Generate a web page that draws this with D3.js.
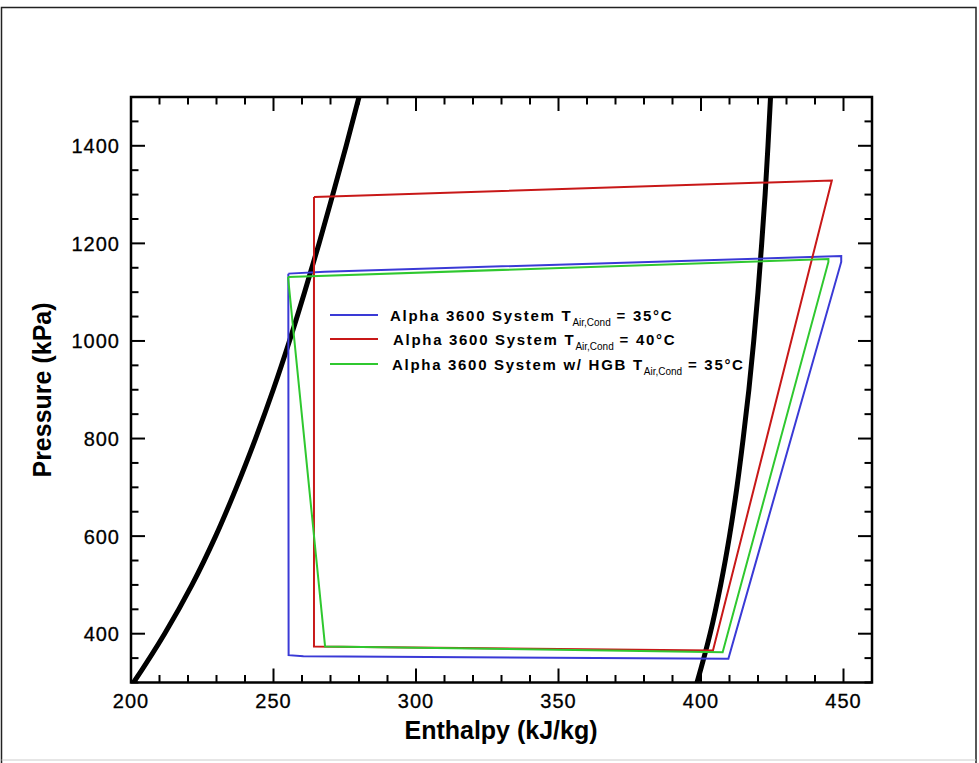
<!DOCTYPE html>
<html><head><meta charset="utf-8">
<script src="https://cdn.jsdelivr.net/npm/d3@7"></script>
<style>body{margin:0;background:#fff}svg{display:block}</style>
</head><body><svg id="c" width="979" height="763"></svg>
<script>
// Saturation dome (R-134a), pressure kPa / enthalpy kJ/kg
const satPressure = [280, 300, 400, 500, 600, 700, 800, 900, 1000, 1100, 1200, 1300, 1400, 1500, 1550];
const satLiquidH  = [198.6, 200.9, 211.8, 221.4, 229.7, 237.0, 243.7, 249.9, 255.6, 260.9, 266.0, 270.8, 275.5, 280.0, 282.2];
const satVaporH   = [397.6, 398.6, 403.2, 406.9, 410.0, 412.6, 414.8, 416.8, 418.5, 420.0, 421.3, 422.5, 423.5, 424.4, 424.8];

// Cycles
const seriesNames = [
  {main: "Alpha 3600 System T", sub: "Air,Cond", tail: " = 35\u00B0C"},
  {main: "Alpha 3600 System T", sub: "Air,Cond", tail: " = 40\u00B0C"},
  {main: "Alpha 3600 System w/ HGB T", sub: "Air,Cond", tail: " = 35\u00B0C"}
];
const blueH  = [255.2, 268.0, 449.2, 449.2, 409.6, 260.5, 255.3, 255.2];
const blueP  = [1138, 1142, 1174, 1162, 348.5, 354, 356, 1138];
const redH   = [264.2, 275.5, 445.9, 404.2, 264.2, 264.2];
const redP   = [1295, 1297, 1329, 365.5, 374, 1295];
const greenH = [255.1, 444.7, 444.7, 407.6, 268.1, 255.1];
const greenP = [1131, 1168, 1162, 362, 374, 1131];

const xMajor = [200, 250, 300, 350, 400, 450];
const yMajor = [400, 600, 800, 1000, 1200, 1400];

const svg = d3.select("#c");
const L = 131, R = 872, T = 97, B = 682.5;
const x = d3.scaleLinear().domain([200, 460]).range([L, R]);
const y = d3.scaleLinear().domain([300, 1500]).range([B, T]);

// outer frame
svg.append("path").attr("d", "M1.5,763 L1.5,7.5 L976,7.5 L976,763")
  .attr("fill", "none").attr("stroke", "#222").attr("stroke-width", 1.5);
svg.append("line").attr("x1", 1.5).attr("x2", 976).attr("y1", 760).attr("y2", 760)
  .attr("stroke", "#ccc").attr("stroke-width", 1);

svg.append("clipPath").attr("id", "clip").append("rect")
  .attr("x", L).attr("y", T).attr("width", R - L).attr("height", B - T);

const g = svg.append("g").attr("clip-path", "url(#clip)");
const line = d3.line().x(d => x(d[0])).y(d => y(d[1]));

g.append("path").datum(satPressure.map((p, i) => [satLiquidH[i], p]))
  .attr("d", line.curve(d3.curveMonotoneY)).attr("fill", "none").attr("stroke", "#000").attr("stroke-width", 5);
g.append("path").datum(satPressure.map((p, i) => [satVaporH[i], p]))
  .attr("d", line.curve(d3.curveMonotoneY)).attr("fill", "none").attr("stroke", "#000").attr("stroke-width", 5);

const lin = d3.line().x(d => x(d[0])).y(d => y(d[1]));
const cycles = [
  {h: blueH, p: blueP, c: "#3a3ad6"},
  {h: redH, p: redP, c: "#c81818"},
  {h: greenH, p: greenP, c: "#2fc82f"}
];
cycles.forEach(cy => {
  g.append("path").datum(cy.h.map((h, i) => [h, cy.p[i]]))
    .attr("d", lin).attr("fill", "none").attr("stroke", cy.c).attr("stroke-width", 2)
    .attr("stroke-linejoin", "miter");
});

// axes
const xMinor = d3.range(200, 461, 10).filter(v => !xMajor.includes(v));
const yMinor = d3.range(300, 1501, 50).filter(v => !yMajor.includes(v));
const axisG = svg.append("g");
function tick(x1, y1, x2, y2) {
  axisG.append("line").attr("x1", x1).attr("y1", y1).attr("x2", x2).attr("y2", y2)
    .attr("stroke", "#000").attr("stroke-width", 2);
}
xMajor.forEach(v => { tick(x(v), B, x(v), B - 14); tick(x(v), T, x(v), T + 14); });
xMinor.forEach(v => { tick(x(v), B, x(v), B - 7.5); tick(x(v), T, x(v), T + 7.5); });
yMajor.forEach(v => { tick(L, y(v), L + 14, y(v)); tick(R, y(v), R - 14, y(v)); });
yMinor.forEach(v => { tick(L, y(v), L + 7.5, y(v)); tick(R, y(v), R - 7.5, y(v)); });
axisG.append("rect").attr("x", L).attr("y", T).attr("width", R - L).attr("height", B - T)
  .attr("fill", "none").attr("stroke", "#000").attr("stroke-width", 2.5);

const font = "'Liberation Sans', Arial, sans-serif";
svg.append("g").selectAll("text").data(xMajor).join("text")
  .attr("x", d => x(d)).attr("y", 708).attr("text-anchor", "middle")
  .attr("font-family", font).attr("font-size", 20).attr("letter-spacing", 1)
  .attr("stroke", "#000").attr("stroke-width", 0.3)
  .text(d => d);
svg.append("g").selectAll("text").data(yMajor).join("text")
  .attr("x", 120).attr("y", d => y(d) + 7.5).attr("text-anchor", "end")
  .attr("font-family", font).attr("font-size", 20).attr("letter-spacing", 1)
  .attr("stroke", "#000").attr("stroke-width", 0.3)
  .text(d => d);

svg.append("text").attr("x", 501).attr("y", 739).attr("text-anchor", "middle")
  .attr("font-family", font).attr("font-size", 25).attr("font-weight", "bold")
  .text("Enthalpy (kJ/kg)");
svg.append("text").attr("transform", "translate(51,390) rotate(-90)").attr("text-anchor", "middle")
  .attr("font-family", font).attr("font-size", 25).attr("font-weight", "bold")
  .text("Pressure (kPa)");

// legend
const legY = [315, 339, 364];
const legTextX = [390, 393, 392];
seriesNames.forEach((s, i) => {
  svg.append("line").attr("x1", 330).attr("x2", 378).attr("y1", legY[i]).attr("y2", legY[i])
    .attr("stroke", cycles[i].c).attr("stroke-width", 2);
  const t = svg.append("text").attr("x", legTextX[i]).attr("y", legY[i] + 5.5)
    .attr("font-family", font).attr("font-size", 15).attr("font-weight", "bold")
    .attr("letter-spacing", 1.7);
  t.append("tspan").text(s.main);
  t.append("tspan").attr("dy", 5).attr("font-size", 10).attr("font-weight", "normal")
    .attr("letter-spacing", 0).text(s.sub);
  t.append("tspan").attr("dy", -5).text(s.tail);
});
</script>
</body></html>
